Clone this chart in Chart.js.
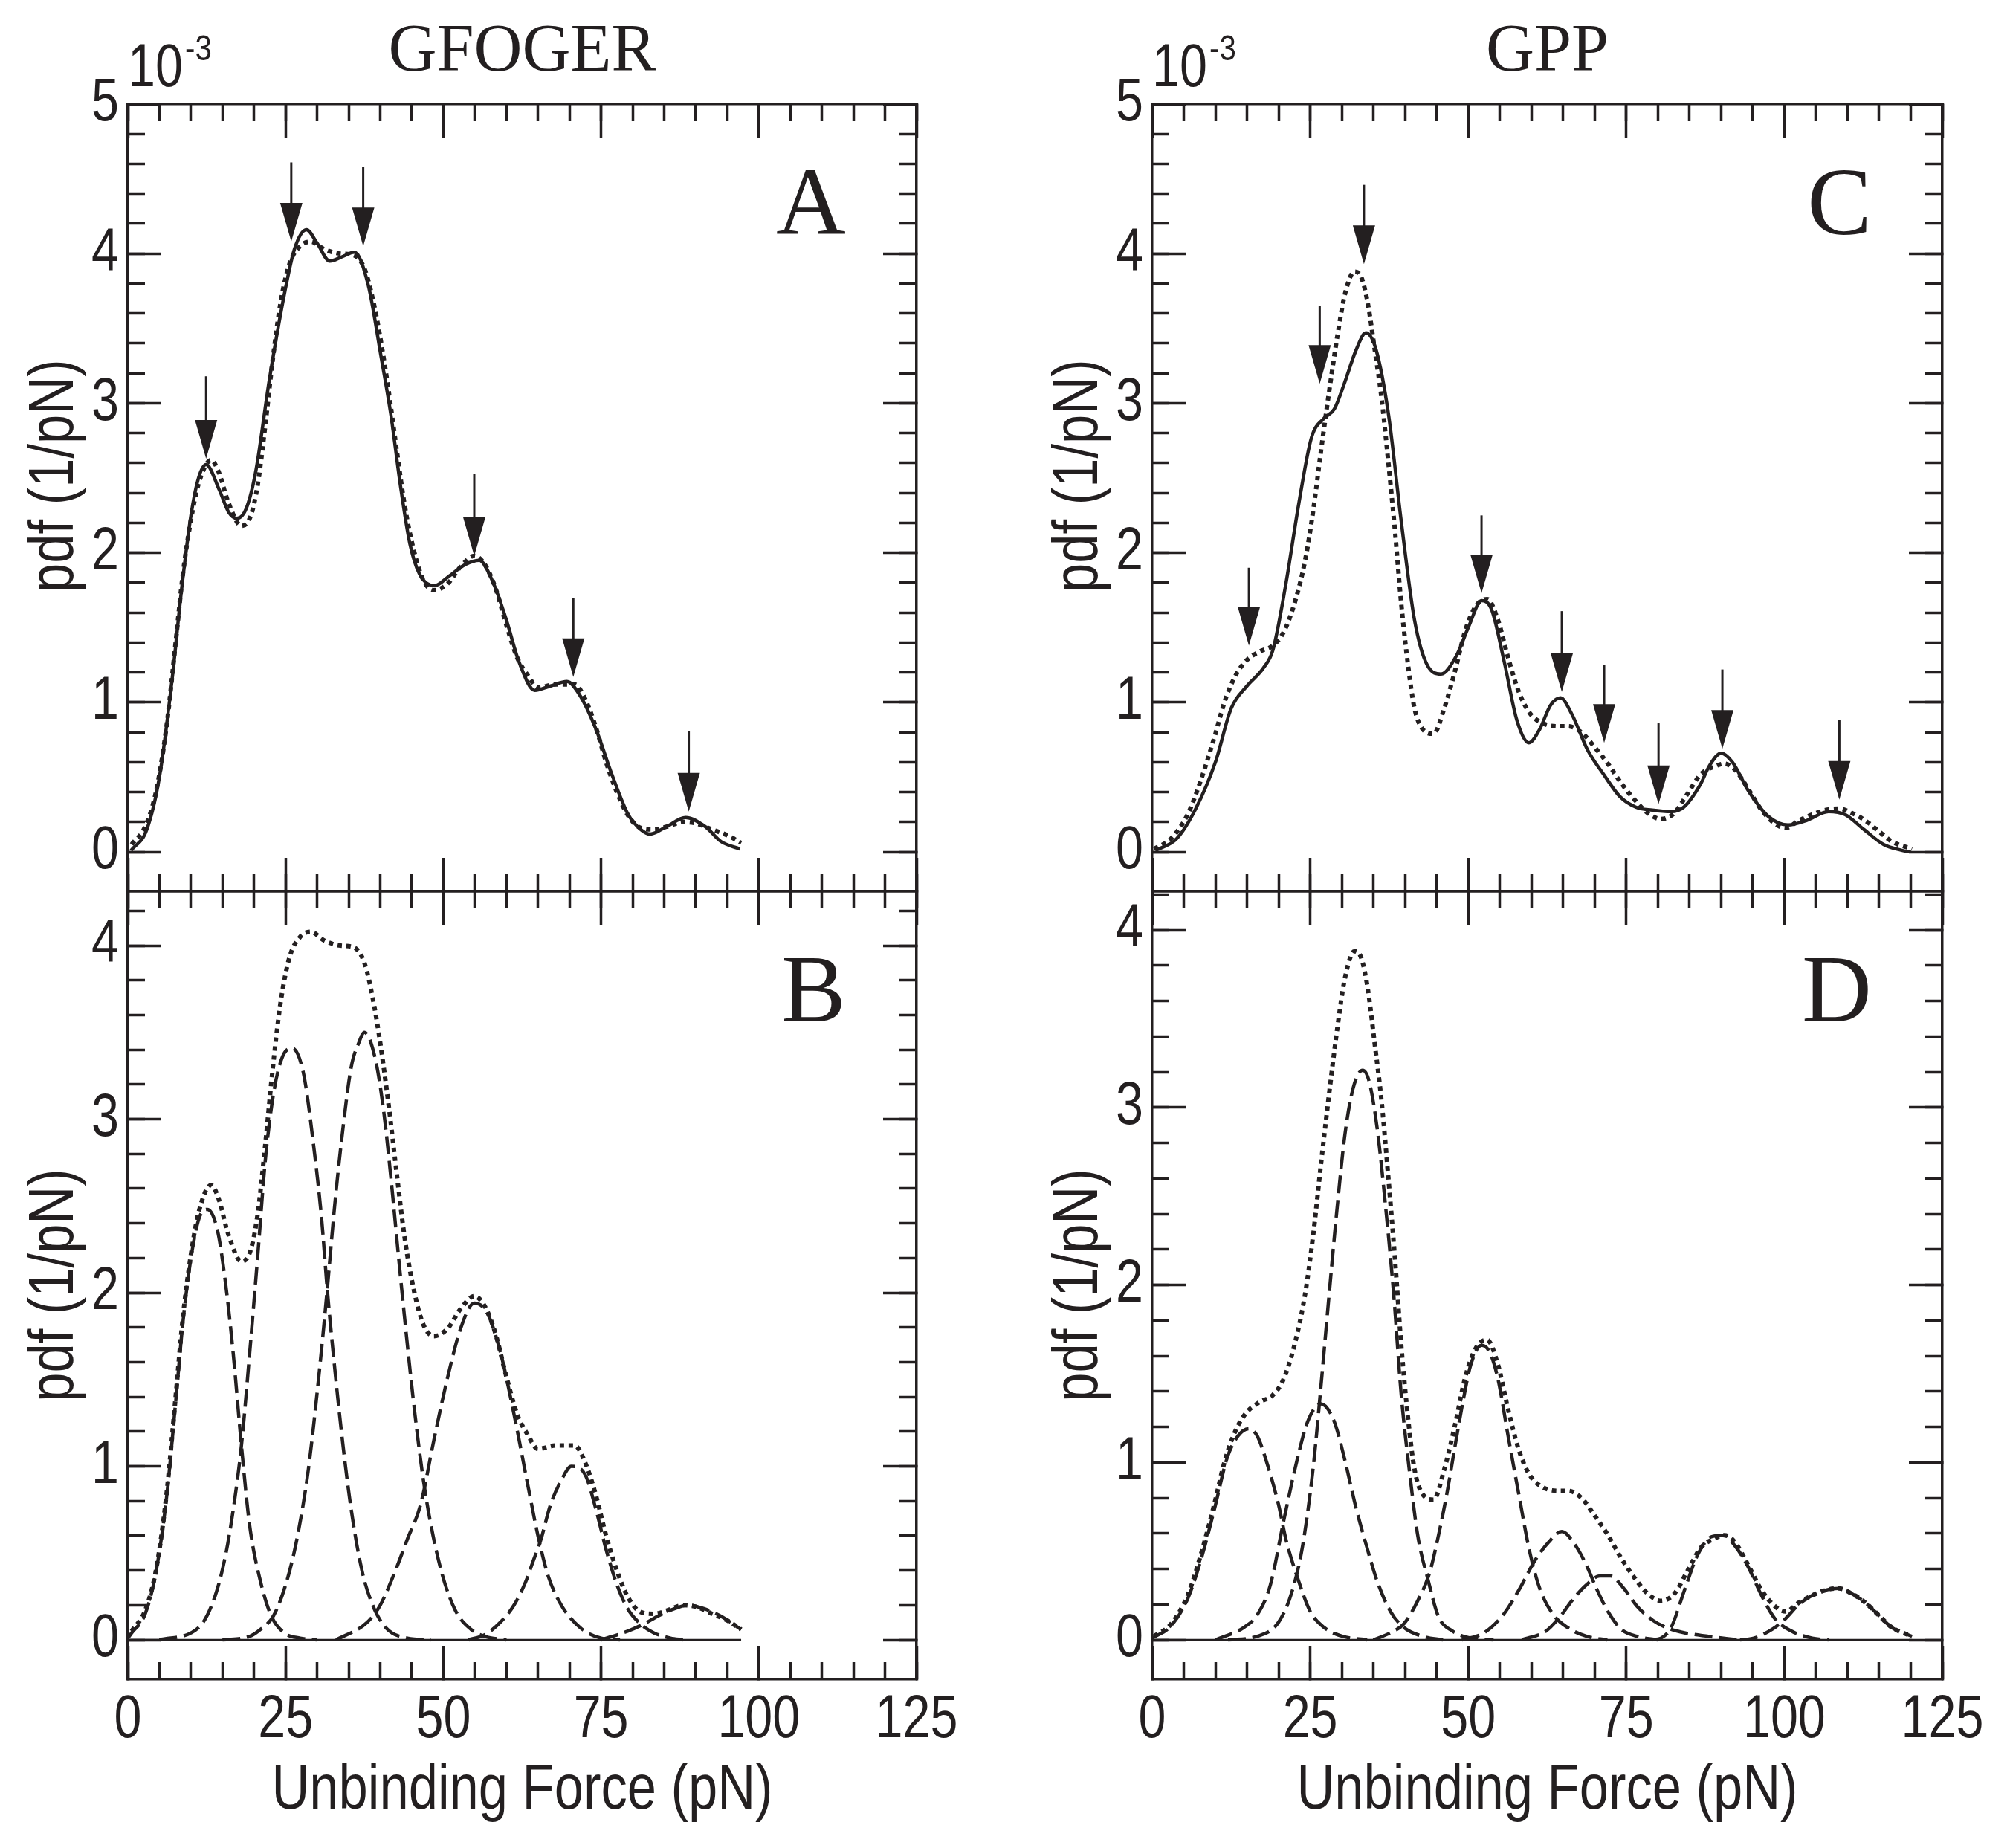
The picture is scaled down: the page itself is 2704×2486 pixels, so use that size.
<!DOCTYPE html>
<html>
<head>
<meta charset="utf-8">
<title>Unbinding force pdf - GFOGER / GPP</title>
<script src="https://cdn.jsdelivr.net/npm/chart.js@4.4.0/dist/chart.umd.min.js"></script>
<style>
  body { margin: 0; background: #fff; }
  #fig { position: relative; width: 2704px; height: 2486px; background: #fff; overflow: hidden; }
  #fig canvas { position: absolute; }
  .lbl { position: absolute; color: #231f20; white-space: nowrap; }
  .serif { font-family: "Liberation Serif", "Times New Roman", serif; }
  .sans { font-family: "Liberation Sans", Arial, sans-serif; transform: scaleX(0.82); transform-origin: left top; }
  .head { font-size: 90px; line-height: 90px; text-align: center; top: 20px; }
  .exp { font-size: 81px; line-height: 81px; top: 48px; }
  .sup { font-size: 49px; line-height: 49px; top: 40px; }
  .letter { font-size: 130px; line-height: 130px; text-align: right; }
</style>
</head>
<body>
<div id="fig">
  <canvas id="chartA" width="1352" height="1230" style="left:0;top:0;width:1352px;height:1230px"></canvas>
  <canvas id="chartB" width="1352" height="1316" style="left:0;top:1170px;width:1352px;height:1316px"></canvas>
  <canvas id="chartC" width="1352" height="1230" style="left:1352px;top:0;width:1352px;height:1230px"></canvas>
  <canvas id="chartD" width="1352" height="1316" style="left:1352px;top:1170px;width:1352px;height:1316px"></canvas>

  <div class="lbl serif head" style="left:172px;width:1061px">GFOGER</div>
  <div class="lbl serif head" style="left:1550px;width:1063px">GPP</div>
  <div class="lbl sans exp" style="left:172px">10</div>
  <div class="lbl sans sup" style="left:249px">-3</div>
  <div class="lbl sans exp" style="left:1550px">10</div>
  <div class="lbl sans sup" style="left:1627px">-3</div>
  <div class="lbl serif letter" style="right:1566px;top:206px">A</div>
  <div class="lbl serif letter" style="right:1566px;top:1265px">B</div>
  <div class="lbl serif letter" style="right:186px;top:206px">C</div>
  <div class="lbl serif letter" style="right:186px;top:1265px">D</div>
</div>

<script>
// values in units of 1e-3 1/pN, force in pN

// GFOGER: fitted pdf (solid, panel A) and the summed curve (dotted, A and B)
const gfogerSolid = [[0.5,0.01],[3,0.15],[5,0.5],[7,1.15],[8.5,1.75],[10,2.25],[11.2,2.5],[12.4,2.59],[14.5,2.42],[16,2.27],[17.3,2.23],[18.8,2.3],[20.3,2.55],[22.4,3.15],[24.9,3.75],[26.4,4.03],[28.3,4.16],[30,4.07],[32,3.95],[34,3.98],[35.9,4.01],[38.1,3.79],[40.1,3.32],[41.7,2.92],[43.2,2.45],[44.7,2.06],[46.2,1.86],[48.6,1.78],[50.8,1.84],[53.4,1.92],[55.7,1.95],[57.9,1.8],[60,1.55],[62,1.27],[64.5,1.08],[67,1.11],[69.6,1.14],[71.6,1.05],[74.2,0.82],[76.7,0.52],[79.3,0.25],[81.3,0.15],[82.8,0.12],[85.4,0.17],[88.4,0.23],[91.5,0.17],[94,0.07],[97,0.02]];
const gfogerSum = [[0.6,0.05],[2.75,0.17],[4.45,0.4],[6.1,0.83],[7.6,1.41],[8.7,1.85],[10,2.22],[11.2,2.46],[13.2,2.62],[14.4,2.54],[15.9,2.34],[18,2.18],[19.5,2.25],[20.6,2.46],[21.8,2.86],[22.9,3.27],[24.2,3.67],[25.6,3.93],[27.3,4.05],[29,4.08],[31.1,4.03],[33.7,4.0],[35.8,3.99],[37.5,3.9],[38.8,3.7],[40,3.44],[41.3,3.09],[42.6,2.69],[43.9,2.31],[45.3,2.02],[46.8,1.82],[48.5,1.75],[50.6,1.79],[52.8,1.91],[54.9,1.98],[56.6,1.92],[58.3,1.76],[59.9,1.53],[61.7,1.3],[63.4,1.18],[65,1.1],[67.9,1.12],[70.8,1.12],[72.5,1.02],[74.2,0.83],[75.8,0.6],[77.5,0.4],[79.2,0.25],[81.3,0.16],[83.4,0.15],[85.5,0.17],[88,0.2],[90.1,0.19],[92.6,0.15],[95.1,0.11],[97.2,0.06]];

// GFOGER components (dashed, panel B)
const gfogerPeak1 = [[0,0.01],[0.6,0.04],[2.75,0.15],[4.45,0.39],[6.1,0.81],[7.6,1.38],[8.7,1.82],[10,2.2],[11.3,2.43],[12.6,2.48],[14.2,2.36],[15.5,2.05],[16.7,1.65],[18,1.12],[19.3,0.66],[21,0.34],[22.7,0.14],[24.8,0.04],[27.3,0.01],[30,0]];
const gfogerPeak2 = [[5,0],[11.2,0.07],[13.8,0.25],[15.5,0.49],[16.7,0.75],[18,1.12],[19.3,1.65],[20.6,2.22],[21.8,2.77],[23.1,3.15],[24.4,3.35],[26,3.41],[27.8,3.27],[29.4,2.86],[30.7,2.43],[31.6,2.02],[32.8,1.56],[34.1,1.12],[35.4,0.75],[37.1,0.4],[38.8,0.2],[40.9,0.07],[44.3,0.01],[48,0]];
const gfogerPeak3 = [[15,0],[19.3,0.02],[21,0.06],[23.1,0.14],[25.2,0.34],[26.9,0.6],[28.6,0.98],[30.3,1.53],[31.6,2.02],[32.8,2.51],[34.1,2.95],[35.4,3.3],[36.6,3.44],[37.5,3.5],[39.2,3.35],[40.5,3.06],[41.7,2.66],[43,2.17],[44.3,1.7],[45.5,1.3],[46.8,0.93],[48.1,0.65],[49.8,0.38],[51.9,0.17],[54.4,0.06],[56.6,0.02],[60,0]];
const gfogerPeak4 = [[33,0],[37.9,0.1],[40,0.2],[42.2,0.38],[44.3,0.58],[46.4,0.78],[48.5,1.15],[50.6,1.5],[52.8,1.8],[54.9,1.94],[57,1.88],[59.1,1.65],[61.2,1.3],[63.4,0.89],[65,0.6],[66.6,0.37],[68.7,0.2],[71.7,0.07],[75,0.01],[78,0]];
const gfogerPeak5 = [[54,0],[56.6,0.03],[59,0.1],[61.2,0.2],[63,0.33],[64.2,0.45],[65.4,0.57],[67,0.78],[68.7,0.92],[70.3,1.0],[72.5,0.95],[74.2,0.75],[75.8,0.52],[77.5,0.32],[79.2,0.18],[81.3,0.09],[83.4,0.04],[86,0.01],[88,0]];
const gfogerPeak6 = [[75,0],[79.2,0.05],[81.7,0.09],[84.2,0.14],[86.7,0.18],[88.8,0.2],[91.3,0.18],[93.8,0.14],[97.2,0.06]];
const gfogerBase = [[0,0],[97.2,0]];

// GPP: fitted pdf (solid, panel C) and the summed curve (dotted, C and D)
const gppSolid = [[0.5,0.01],[3.9,0.09],[6.9,0.29],[10,0.6],[12.5,0.96],[15,1.11],[17.6,1.23],[19.1,1.35],[21.1,1.78],[23.2,2.33],[25.2,2.77],[27.2,2.9],[28.8,2.96],[30.3,3.12],[32.3,3.36],[33.8,3.47],[35.4,3.36],[37.4,2.92],[39.4,2.21],[41.5,1.55],[43.5,1.25],[45.7,1.19],[48.1,1.31],[50.1,1.51],[52.1,1.68],[53.7,1.62],[55.7,1.27],[57.7,0.88],[59.6,0.73],[61.3,0.82],[63,0.98],[64.6,1.03],[66.4,0.92],[68.9,0.68],[71.4,0.52],[74,0.37],[76.5,0.3],[79.1,0.28],[82.1,0.27],[84.1,0.3],[86.7,0.45],[88.2,0.58],[90,0.66],[91.8,0.6],[94.3,0.41],[97.4,0.24],[100.6,0.18],[103.5,0.21],[107,0.27],[109.6,0.25],[112.6,0.15],[115.7,0.05],[118.7,0.01],[120,0]];
const gppSum = [[0.3,0.02],[3,0.09],[5.6,0.25],[7.7,0.48],[9.8,0.76],[11.5,1.01],[13.2,1.18],[14.9,1.28],[17,1.34],[19.1,1.38],[20.8,1.47],[22.5,1.66],[24.2,1.95],[25.5,2.29],[26.7,2.68],[28,3.08],[29.3,3.45],[30.5,3.73],[32,3.88],[33.1,3.84],[34.1,3.67],[35.2,3.36],[36.3,3.03],[37.3,2.63],[38.4,2.15],[39.4,1.66],[40.5,1.24],[41.5,0.96],[42.8,0.82],[44.5,0.79],[46.2,0.96],[47.9,1.21],[49.6,1.49],[51.3,1.65],[53,1.69],[54.7,1.55],[56.3,1.3],[58,1.07],[59.7,0.93],[61.8,0.86],[64.4,0.84],[65.8,0.84],[67.9,0.8],[70,0.7],[72.1,0.59],[74.2,0.46],[76.3,0.35],[78.4,0.26],[80.5,0.22],[82.6,0.26],[84.7,0.39],[86.8,0.52],[88.9,0.57],[90.5,0.59],[92.2,0.55],[94.3,0.42],[96.4,0.28],[98.5,0.19],[100.2,0.16],[102.3,0.21],[104.4,0.25],[106.5,0.28],[108.6,0.29],[110.7,0.26],[112.8,0.21],[114.9,0.14],[117,0.07],[120.2,0.02]];

// GPP components (dashed, panel D)
const gppPeak1 = [[0,0.01],[3,0.08],[5.6,0.23],[7.7,0.45],[9.8,0.73],[11.9,1.03],[13.6,1.15],[15.3,1.19],[16.6,1.15],[18.3,0.98],[20,0.76],[21.2,0.56],[22.9,0.36],[25,0.16],[27.2,0.07],[30.1,0.02],[34,0]];
const gppPeak2 = [[10,0],[14.5,0.07],[16.6,0.14],[18.7,0.31],[20.8,0.67],[22.9,1.01],[24.6,1.23],[26.7,1.33],[28.8,1.23],[30.5,1.01],[32.2,0.75],[33.9,0.53],[35.6,0.33],[37.7,0.16],[39.8,0.07],[42.8,0.02],[46,0]];
const gppPeak3 = [[12,0],[16.6,0.02],[20,0.1],[22.1,0.27],[23.8,0.53],[25.5,0.98],[26.7,1.43],[28,1.95],[29.3,2.45],[30.5,2.85],[31.8,3.11],[33.3,3.21],[34.3,3.15],[35.6,2.88],[36.9,2.45],[38.2,1.95],[39.4,1.38],[40.7,0.95],[42,0.59],[43.7,0.33],[45.3,0.13],[47.5,0.05],[50.4,0.01],[54,0]];
const gppPeak4 = [[35,0],[37.7,0.04],[39.8,0.09],[42,0.22],[43.9,0.38],[45.3,0.59],[46.6,0.82],[47.9,1.09],[49.2,1.35],[50.4,1.55],[52.1,1.66],[53.4,1.62],[54.7,1.47],[56.3,1.15],[58,0.82],[59.7,0.5],[61.4,0.28],[63.5,0.14],[65.7,0.07],[68.7,0.02],[72,0]];
const gppPeak5 = [[49,0],[52.5,0.04],[55.5,0.14],[58,0.28],[60.6,0.45],[62.7,0.55],[64.8,0.61],[67,0.53],[68.7,0.42],[70.4,0.28],[72.1,0.16],[74.2,0.06],[76.7,0.02],[80,0]];
const gppPeak6 = [[58.5,0],[62.3,0.05],[64.5,0.13],[66.6,0.23],[68.7,0.31],[70.8,0.36],[72.5,0.36],[74.6,0.29],[76.7,0.19],[79.2,0.11],[81.3,0.07],[84.2,0.04],[88,0.02],[92.6,0]];
const gppPeak7 = [[79,0],[80.5,0.01],[82.1,0.07],[84.2,0.28],[86.3,0.48],[88.4,0.58],[90.3,0.59],[92.2,0.53],[94.3,0.41],[96.4,0.25],[98.5,0.12],[101.1,0.05],[104.4,0.01],[107,0]];
const gppPeak8 = [[93,0],[95.2,0.01],[98.1,0.06],[100.2,0.12],[102.3,0.2],[104.4,0.25],[106.5,0.28],[108.6,0.29],[110.7,0.26],[112.8,0.21],[114.9,0.14],[117,0.07],[120.2,0.02]];
const gppBase = [[0,0],[120.2,0]];

// peak markers: force, arrow tip value, arrow tail value
const arrowsAForce = [12.4, 25.9, 37.3, 54.9, 70.6, 88.9];
const arrowsATip   = [2.63, 4.08, 4.05, 1.98, 1.17, 0.27];
const arrowsATail  = [3.18, 4.61, 4.58, 2.53, 1.70, 0.81];
const arrowsCForce = [15.3, 26.5, 33.5, 52.1, 64.8, 71.5, 80.1, 90.2, 108.7];
const arrowsCTip   = [1.38, 3.13, 3.93, 1.73, 1.07, 0.73, 0.32, 0.69, 0.35];
const arrowsCTail  = [1.90, 3.65, 4.46, 2.25, 1.61, 1.25, 0.86, 1.22, 0.88];

// axis text
const xTitle = 'Unbinding Force (pN)';
const yTitle = 'pdf (1/pN)';

const ink = '#231f20';
const sansFamily = '"Liberation Sans", Arial, sans-serif';

function toXY(arr) {
  return arr.map(p => ({ x: p[0], y: p[1] }));
}

function solid(arr) {
  return { data: toXY(arr), borderColor: ink, borderWidth: 4.5, pointRadius: 0,
           cubicInterpolationMode: 'monotone', xAxisID: 'x', yAxisID: 'y' };
}
function dotted(arr) {
  return { data: toXY(arr), borderColor: ink, borderWidth: 6, borderDash: [6, 6],
           borderCapStyle: 'butt', pointRadius: 0, cubicInterpolationMode: 'monotone',
           xAxisID: 'x', yAxisID: 'y' };
}
function dashed(arr) {
  return { data: toXY(arr), borderColor: ink, borderWidth: 4.5, borderDash: [24, 9],
           pointRadius: 0, cubicInterpolationMode: 'monotone', xAxisID: 'x', yAxisID: 'y' };
}
function baseline(arr) {
  return { data: toXY(arr), borderColor: ink, borderWidth: 2.5, pointRadius: 0,
           tension: 0, xAxisID: 'x', yAxisID: 'y' };
}

// the figure uses a narrow sans; squeeze canvas text horizontally around its anchor
function narrowText(ctx, k) {
  const fill = ctx.fillText.bind(ctx);
  ctx.fillText = function (text, x, y, maxWidth) {
    this.save();
    this.translate(x, y);
    this.scale(k, 1);
    if (maxWidth === undefined) fill(text, 0, 0);
    else fill(text, 0, 0, maxWidth / k);
    this.restore();
  };
}

function arrowPlugin(forces, tips, tails) {
  return {
    id: 'peakArrows',
    afterDatasetsDraw(chart) {
      const ctx = chart.ctx, sx = chart.scales.x, sy = chart.scales.y;
      ctx.save();
      ctx.strokeStyle = ink;
      ctx.fillStyle = ink;
      ctx.lineWidth = 3;
      forces.forEach((f, i) => {
        const px = sx.getPixelForValue(f);
        const tipY = sy.getPixelForValue(tips[i]);
        const tailY = sy.getPixelForValue(tails[i]);
        ctx.beginPath();
        ctx.moveTo(px, tailY);
        ctx.lineTo(px, tipY - 40);
        ctx.stroke();
        ctx.beginPath();
        ctx.moveTo(px, tipY);
        ctx.lineTo(px - 15, tipY - 52);
        ctx.lineTo(px + 15, tipY - 52);
        ctx.closePath();
        ctx.fill();
      });
      ctx.restore();
    }
  };
}

// p: y-axis box width, top/right padding, x-axis box height, y range, labels shown, title padding
function makeScales(p) {
  const tickFont = { family: sansFamily, size: 81 };
  const titleFont = { family: sansFamily, size: 86 };
  const frame = { display: true, width: 3.5, color: ink };
  const noBorder = { display: false };
  const major = { drawOnChartArea: false, drawTicks: true, tickLength: -45, tickWidth: 3.5, tickColor: ink };
  const minor = { drawOnChartArea: false, drawTicks: true, tickLength: -23, tickWidth: 3.5, tickColor: ink };
  // fixed box sizes; label overhang must not push the plot frame around
  const size = v => s => {
    if (s.isHorizontal()) s.height = v; else s.width = v;
    s.paddingTop = s.paddingBottom = s.paddingLeft = s.paddingRight = 0;
  };
  const inside = s => { s.ticks = s.ticks.filter(t => t.value >= -1e-9 && t.value <= s.max + 1e-9); };
  const hidden = { display: false };
  const xBase = { type: 'linear', axis: 'x', min: 0, max: 125 };
  const yBase = { type: 'linear', axis: 'y', min: p.yMin, max: p.yMax };
  return {
    x: Object.assign({}, xBase, {
      position: 'bottom', weight: 1, border: frame, grid: major,
      ticks: { display: p.showX, stepSize: 25, padding: 52, autoSkip: false, maxRotation: 0, minRotation: 0, font: tickFont, color: ink },
      title: { display: p.showX, text: xTitle, font: titleFont, color: ink, padding: { top: 0, bottom: 25 } },
      afterFit: size(p.H)
    }),
    xMinor: Object.assign({}, xBase, {
      position: 'bottom', weight: 0, border: noBorder, grid: minor,
      ticks: Object.assign({ stepSize: 5 }, hidden), afterFit: size(0)
    }),
    xTop: Object.assign({}, xBase, {
      position: 'top', weight: 1, border: frame, grid: major,
      ticks: Object.assign({ stepSize: 25 }, hidden), afterFit: size(0)
    }),
    xTopMinor: Object.assign({}, xBase, {
      position: 'top', weight: 0, border: noBorder, grid: minor,
      ticks: Object.assign({ stepSize: 5 }, hidden), afterFit: size(0)
    }),
    y: Object.assign({}, yBase, {
      position: 'left', weight: 1, border: frame, grid: major,
      ticks: { stepSize: 1, includeBounds: false, padding: 57, font: tickFont, color: ink },
      title: { display: true, text: p.yText, font: titleFont, color: ink, padding: { top: p.titlePad, bottom: 0 } },
      afterBuildTicks: inside, afterFit: size(p.L)
    }),
    yMinor: Object.assign({}, yBase, {
      position: 'left', weight: 0, border: noBorder, grid: minor,
      ticks: Object.assign({ stepSize: 0.2, includeBounds: false }, hidden),
      afterBuildTicks: inside, afterFit: size(0)
    }),
    yRight: Object.assign({}, yBase, {
      position: 'right', weight: 1, border: frame, grid: major,
      ticks: Object.assign({ stepSize: 1, includeBounds: false }, hidden),
      afterBuildTicks: inside, afterFit: size(0)
    }),
    yRightMinor: Object.assign({}, yBase, {
      position: 'right', weight: 0, border: noBorder, grid: minor,
      ticks: Object.assign({ stepSize: 0.2, includeBounds: false }, hidden),
      afterBuildTicks: inside, afterFit: size(0)
    })
  };
}

function makePanel(id, p, datasets, plugins) {
  const ctx = document.getElementById(id).getContext('2d');
  narrowText(ctx, 0.82);
  return new Chart(ctx, {
    type: 'line',
    data: { datasets: datasets },
    options: {
      responsive: false,
      animation: false,
      devicePixelRatio: 1,
      layout: { autoPadding: false, padding: { left: 0, top: p.T, right: p.R, bottom: 0 } },
      plugins: { legend: { display: false }, tooltip: { enabled: false } },
      scales: makeScales(p)
    },
    plugins: plugins || []
  });
}

// y title centred on the 0..5 span in the upper panels, hence the leading spaces
const topTitle = '   ' + yTitle;

makePanel('chartA',
  { L: 172, T: 140, R: 119, H: 31, yMin: -0.263, yMax: 5, showX: false, yText: topTitle, titlePad: 23 },
  [solid(gfogerSolid), dotted(gfogerSum)],
  [arrowPlugin(arrowsAForce, arrowsATip, arrowsATail)]);

makePanel('chartB',
  { L: 172, T: 29, R: 119, H: 227, yMin: -0.227, yMax: 4.313, showX: true, yText: yTitle, titlePad: 23 },
  [baseline(gfogerBase), dotted(gfogerSum), dashed(gfogerPeak1), dashed(gfogerPeak2), dashed(gfogerPeak3),
   dashed(gfogerPeak4), dashed(gfogerPeak5), dashed(gfogerPeak6)]);

makePanel('chartC',
  { L: 198, T: 140, R: 91, H: 31, yMin: -0.263, yMax: 5, showX: false, yText: topTitle, titlePad: 49 },
  [solid(gppSolid), dotted(gppSum)],
  [arrowPlugin(arrowsCForce, arrowsCTip, arrowsCTail)]);

makePanel('chartD',
  { L: 198, T: 29, R: 91, H: 227, yMin: -0.222, yMax: 4.218, showX: true, yText: yTitle, titlePad: 49 },
  [baseline(gppBase), dotted(gppSum), dashed(gppPeak1), dashed(gppPeak2), dashed(gppPeak3), dashed(gppPeak4),
   dashed(gppPeak5), dashed(gppPeak6), dashed(gppPeak7), dashed(gppPeak8)]);
</script>
</body>
</html>
